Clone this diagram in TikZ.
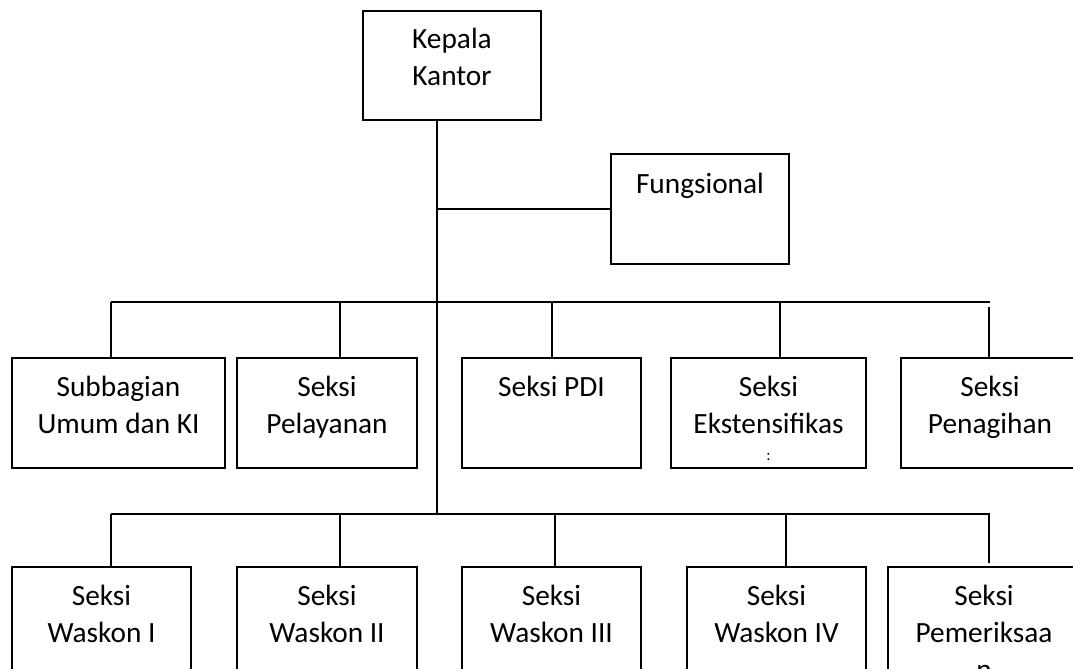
\documentclass[tikz,border=0pt]{standalone}
\usepackage{fontspec}
\setmainfont{Carlito}
\usetikzlibrary{fit}
\tikzset{
  box/.style={draw, line width=1.4pt, rectangle, inner sep=0pt},
  lbl/.style={font=\fontsize{22}{27.75}\selectfont, align=center, anchor=base, inner sep=0pt},
  tiny/.style={font=\fontsize{12}{12}\selectfont, anchor=base, inner sep=0pt},
  ln/.style={line width=1.4pt}
}
\begin{document}
\begin{tikzpicture}[x=0.75pt,y=-0.75pt]
\useasboundingbox (0,0) rectangle (1073,668);
% boxes
\node[box, fit={(363,11) (541,120)}] (kk) {};
\node[box, fit={(611,154) (789,264)}] (fu) {};
\node[box, fit={(12,358) (225,468)}] (sub) {};
\node[box, fit={(237,358) (417,468)}] (pel) {};
\node[box, fit={(462,358) (641,468)}] (pdi) {};
\node[box, fit={(671,358) (866,468)}] (eks) {};
\node[box, fit={(901,358) (1079,468)}] (pen) {};
\node[box, fit={(12,567) (191,700)}] (w1) {};
\node[box, fit={(237,567) (417,700)}] (w2) {};
\node[box, fit={(462,567) (641,700)}] (w3) {};
\node[box, fit={(687,567) (866,700)}] (w4) {};
\node[box, fit={(888,567) (1080,700)}] (pem) {};
% labels (anchor = baseline of the last line)
\node[lbl] (kkt) at (452,85) {Kepala\\Kantor};
\node[lbl] (fut) at (700,193) {Fungsional};
\node[lbl] (subt) at (118.5,433) {Subbagian\\Umum dan KI};
\node[lbl] (pelt) at (327,433) {Seksi\\Pelayanan};
\node[lbl] (pdit) at (551.5,396) {Seksi PDI};
\node[lbl] (ekst) at (768.5,433) {Seksi\\Ekstensifikas};
\node[tiny] (eksc) at (768.5,460) {:};
\node[lbl] (pent) at (990,433) {Seksi\\Penagihan};
\node[lbl] (w1t) at (101.5,642) {Seksi\\Waskon I};
\node[lbl] (w2t) at (327,642) {Seksi\\Waskon II};
\node[lbl] (w3t) at (551.5,642) {Seksi\\Waskon III};
\node[lbl] (w4t) at (776.5,642) {Seksi\\Waskon IV};
\node[lbl] (pemt) at (984,679) {Seksi\\Pemeriksaa\\n};
% junction coordinates
\coordinate (t0) at (437,120);
\coordinate (j1) at (437,209);
\coordinate (j3) at (437,514);
\coordinate (ma) at (111,302);
\coordinate (mb) at (990,302);
\coordinate (ba) at (111,514);
\coordinate (bb) at (990,514);
\coordinate (c1) at (111,302);
\coordinate (c2) at (340,302);
\coordinate (c3) at (552,302);
\coordinate (c4) at (780,302);
\coordinate (c5) at (989,307);
\coordinate (d1) at (111,514);
\coordinate (d2) at (340,514);
\coordinate (d3) at (555,514);
\coordinate (d4) at (786,514);
\coordinate (d5) at (989,514);
\coordinate (d5e) at (989,563);
% trunk and branches
\draw[ln] (t0) -- (j3);
\draw[ln] (j1) -- (j1 -| fu.west);
\draw[ln] (ma) -- (mb);
\draw[ln] (ba) -- (bb);
\draw[ln] (c1) -- (c1 |- sub.north);
\draw[ln] (c2) -- (c2 |- pel.north);
\draw[ln] (c3) -- (c3 |- pdi.north);
\draw[ln] (c4) -- (c4 |- eks.north);
\draw[ln] (c5) -- (c5 |- pen.north);
\draw[ln] (d1) -- (d1 |- w1.north);
\draw[ln] (d2) -- (d2 |- w2.north);
\draw[ln] (d3) -- (d3 |- w3.north);
\draw[ln] (d4) -- (d4 |- w4.north);
\draw[ln] (d5) -- (d5e);
\end{tikzpicture}
\end{document}
